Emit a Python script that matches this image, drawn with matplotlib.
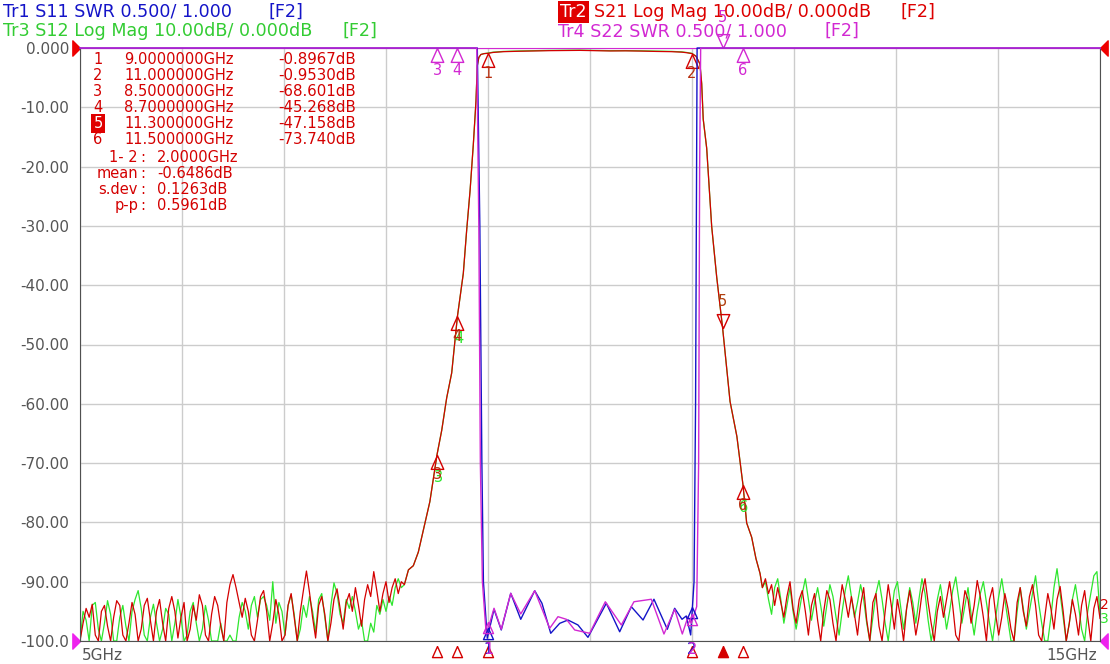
import numpy as np
import matplotlib.pyplot as plt
from matplotlib.path import Path

W, H = 1110, 664

# ---- data ----
# S21 / S12 noise floor below the passband (5.0 .. 8.15 GHz)
s21_noise_lo = [-100, -97, -94.5, -96, -93.8, -99, -100, -95, -94, -97.5,
                -100, -96, -93.2, -94, -99, -100, -97, -93.5, -95.5, -100,
                -98, -94, -92.8, -96.5, -100, -95, -93, -97, -100, -94.5,
                -92.5, -95, -99.5, -96, -93.5, -100, -98, -94, -96.5, -92.2,
                -94, -99, -100, -95.5, -92.5, -94, -97.5, -100, -93.5, -90.5,
                -88.8, -91, -93.5, -96, -92.8, -95, -99, -100, -96.5, -92.5,
                -91.5, -95, -100, -97, -93, -95.5, -100, -99, -94, -92,
                -96, -100, -95, -91.5, -88.2, -91.8, -96, -99.5, -94, -92.5,
                -95.5, -100, -97, -93, -91.2, -94.5, -98, -93.5, -92, -95,
                -91, -94, -97.5, -93, -90.5, -92.5, -88.3, -91.5, -95, -92,
                -90, -93.5, -91, -89.5, -92, -90]
s12_noise_lo = [-100, -95, -96.5, -100, -94, -93.5, -98, -100, -97, -93.2,
                -95.5, -100, -100, -96, -94, -97.5, -100, -95, -93, -91.5,
                -94.5, -99, -100, -96, -93.8, -97, -100, -98, -94.5, -95.5,
                -100, -97, -93, -96, -100, -99, -95, -93.5, -97, -100,
                -98, -94, -96.5, -100, -100, -100, -97, -100, -100, -99,
                -100, -100, -96, -93.5, -95, -98, -94, -92.5, -96, -93,
                -92.5, -94, -96.5, -90, -97, -93.5, -95, -99, -94, -92.2,
                -95.5, -100, -98, -94, -96, -92.5, -95, -98.5, -93, -92,
                -96, -100, -94, -90.2, -92, -95.5, -97, -93, -94.5, -92.5,
                -95, -98, -96.5, -100, -100, -97, -98.5, -94, -95.5, -93,
                -95, -92.5, -94, -91, -89.5, -91]
# noise floor above the passband (11.72 .. 15.0 GHz)
s21_noise_hi = [-89.5, -92, -90.5, -94, -91, -93.5, -96, -92.5, -90, -94.5,
                -97, -93, -91.5, -95, -99, -94, -92, -96.5, -100, -95,
                -91.5, -93, -97, -100, -94.5, -90.5, -93, -96, -92.5, -95.5,
                -99, -94, -91, -96.5, -100, -93.5, -92, -97.5, -100, -95,
                -90.5, -94, -98, -93, -96, -100, -94.5, -91.5, -95, -99,
                -96, -92, -89.5, -93.5, -97, -100, -95, -92.5, -96, -93,
                -90, -94, -99, -100, -95.5, -91.5, -93, -97, -94, -89.8,
                -92.5, -96, -100, -93, -91, -95.5, -99, -96, -92, -94.5,
                -98, -100, -93.5, -91, -95, -97.5, -92.5, -90.5, -94, -99,
                -100, -96, -92, -94.5, -98, -93, -90.8, -95, -100, -97,
                -93, -95.5, -99, -94, -91.5, -96, -100, -94.5, -92.5, -96.2]
s12_noise_hi = [-90, -93, -95.5, -91, -89.5, -93, -97, -94, -91, -95,
                -98, -95, -92, -89.5, -93, -96.5, -93.5, -91, -94, -97.5,
                -94, -90.5, -92.5, -96, -99, -95, -91.5, -89, -92.5, -96,
                -93.5, -90.5, -93, -97, -100, -96, -92, -89.8, -93, -97,
                -100, -95.5, -91.5, -90, -94, -98, -94.5, -91, -93.5, -97,
                -93, -89.5, -92, -96.5, -100, -97, -93, -90.5, -94, -98,
                -95, -91.5, -89.2, -93, -97, -94, -91, -95.5, -99, -95,
                -92, -90, -93.5, -97, -100, -96, -92.5, -89.5, -93, -96.5,
                -100, -100, -95, -91, -94.5, -98, -95, -92, -89, -93.5,
                -97, -100, -100, -96, -91, -87.8, -92, -96, -100, -97,
                -93, -90.5, -94, -98, -100, -95, -92, -89, -88.3, -95.5]

# filter skirts and passband (shared by S21 and S12)
skirt_lo_f = [8.18, 8.22, 8.268, 8.317, 8.366, 8.43, 8.5, 8.546, 8.595, 8.644,
              8.7, 8.758, 8.791, 8.824, 8.856, 8.882, 8.895, 8.91, 8.93, 8.96]
skirt_lo_db = [-90.5, -88.0, -87.3, -85.0, -81.3, -76.5, -68.6, -64.5, -59.0, -54.8,
               -45.3, -38.0, -30.7, -24.1, -16.3, -9.0, -3.0, -1.6, -1.1, -0.95]
pass_f = [9.0, 9.05, 9.15, 9.3, 9.45, 9.6, 9.75, 9.9, 10.05, 10.2, 10.35, 10.5,
          10.65, 10.8, 10.9, 10.95, 11.0]
s21_pass_db = [-0.90, -0.75, -0.62, -0.55, -0.50, -0.45, -0.42, -0.40, -0.45, -0.50,
               -0.48, -0.52, -0.58, -0.62, -0.70, -0.80, -0.95]
s12_pass_db = [-0.85, -0.70, -0.58, -0.50, -0.45, -0.40, -0.38, -0.36, -0.40, -0.45,
               -0.44, -0.47, -0.52, -0.57, -0.65, -0.76, -0.90]
skirt_hi_f = [11.04, 11.078, 11.095, 11.11, 11.144, 11.193, 11.242, 11.3, 11.373,
              11.44, 11.5, 11.536, 11.585, 11.627, 11.667, 11.69]
skirt_hi_db = [-1.4, -2.7, -6.0, -12.0, -16.9, -30.1, -38.6, -47.2, -59.6,
               -65.5, -73.7, -80.1, -82.5, -86.1, -88.6, -91.0]

# S11 / S22 SWR (values above 6 are off the top of the screen)
s11_f = [5.0, 8.88, 8.895, 8.92, 8.94, 8.955, 8.993, 9.059, 9.130, 9.223, 9.321,
         9.458, 9.529, 9.615, 9.703, 9.784, 9.882, 9.980, 10.160, 10.291, 10.405,
         10.520, 10.627, 10.758, 10.830, 10.902, 10.944, 10.987, 11.02, 11.035,
         11.05, 11.07, 15.0]
s11_swr = [20, 20, 7.0, 4.5, 2.5, 1.5, 1.023, 1.267, 1.093, 1.402, 1.183,
           1.424, 1.318, 1.065, 1.149, 1.177, 1.135, 1.031, 1.318, 1.078, 1.289,
           1.177, 1.352, 1.099, 1.276, 1.183, 1.211, 1.051, 1.5, 3.0,
           7.0, 20, 20]
s22_f = [5.0, 8.87, 8.89, 8.91, 8.925, 8.945, 8.983, 9.059, 9.130, 9.223, 9.321,
         9.458, 9.605, 9.686, 9.768, 9.850, 9.997, 10.150, 10.307, 10.431, 10.601,
         10.725, 10.830, 10.905, 10.961, 10.993, 11.046, 11.065, 11.075, 11.085,
         11.10, 15.0]
s22_swr = [20, 20, 7.0, 4.5, 2.5, 1.5, 1.051, 1.276, 1.099, 1.402, 1.228,
           1.424, 1.107, 1.205, 1.183, 1.093, 1.065, 1.331, 1.135, 1.331, 1.352,
           1.059, 1.267, 1.059, 1.205, 1.149, 1.29, 2.5, 5.0, 8.0,
           20, 20]

# markers
mk_num = ["1", "2", "3", "4", "5", "6"]
mk_f = [9.0, 11.0, 8.5, 8.7, 11.3, 11.5]
mk_db = [-0.8967, -0.9530, -68.601, -45.268, -47.158, -73.740]
mk_freq_txt = ["9.0000000GHz", "11.000000GHz", "8.5000000GHz", "8.7000000GHz",
               "11.300000GHz", "11.500000GHz"]
mk_val_txt = ["-0.8967dB", "-0.9530dB", "-68.601dB", "-45.268dB", "-47.158dB", "-73.740dB"]
stat_lbl = ["1- 2", "mean", "s.dev", "p-p"]
stat_val = ["2.0000GHz", "-0.6486dB", "0.1263dB", "0.5961dB"]
ytick_vals = list(range(0, -101, -10))
ytick_txt = ["0.000", "-10.00", "-20.00", "-30.00", "-40.00", "-50.00", "-60.00",
             "-70.00", "-80.00", "-90.00", "-100.0"]

RED = "#d40000"
GREEN = "#2ee62e"
BLUE = "#1414c8"
MAG = "#d228d2"
GREY = "#555555"

plt.rcParams["font.family"] = ["DejaVu Sans"]


def px(x, y):
    return x / W, 1 - y / H


fig = plt.figure(figsize=(W / 100, H / 100), dpi=100)
ax = fig.add_axes([80 / W, 1 - 641 / H, 1020 / W, 593 / H])
ax.set_xlim(5, 15)
ax.set_ylim(-100, 0)
ax.set_xticks(np.arange(5, 16, 1))
ax.set_yticks(ytick_vals)
ax.set_yticklabels(ytick_txt, color=GREY, fontsize=11)
ax.tick_params(length=0, labelbottom=False, pad=8)
ax.grid(color="#cccccc", lw=1)
for s in ["left", "bottom", "right"]:
    ax.spines[s].set_color("#505050")
ax.spines["top"].set_color(MAG)

# traces S12 (green) under S21 (red)
f12 = np.concatenate([np.linspace(5.0, 8.15, len(s12_noise_lo)), skirt_lo_f, pass_f,
                      skirt_hi_f, np.linspace(11.72, 15.0, len(s12_noise_hi))])
d12 = np.concatenate([s12_noise_lo, skirt_lo_db, s12_pass_db, skirt_hi_db, s12_noise_hi])
f21 = np.concatenate([np.linspace(5.0, 8.15, len(s21_noise_lo)), skirt_lo_f, pass_f,
                      skirt_hi_f, np.linspace(11.72, 15.0, len(s21_noise_hi))])
d21 = np.concatenate([s21_noise_lo, skirt_lo_db, s21_pass_db, skirt_hi_db, s21_noise_hi])
ax.plot(f12, d12, color=GREEN, lw=0.9)
ax.plot(f21, d21, color=RED, lw=0.9)

# SWR traces on their own scale: 1.000 at bottom, 0.5/div
ax2 = ax.twinx()
ax2.set_ylim(1, 6)
ax2.axis("off")
ax2.plot(s11_f, np.minimum(s11_swr, 6), color=BLUE, lw=1.0, clip_on=False)
ax2.plot(s22_f, np.minimum(s22_swr, 6), color=MAG, lw=1.0, clip_on=False)

# marker triangles (apex at the point)
up = Path([(0, 0), (-0.45, -1), (0.45, -1), (0, 0)])
dn = Path([(0, 0), (-0.45, 1), (0.45, 1), (0, 0)])
for n, f, v in zip(mk_num, mk_f, mk_db):
    if n == "5":
        ax.plot(f, v, marker=dn, ms=20, mfc="none", mec=RED, mew=1)
        ax.annotate(n, (f, v), xytext=(0, 19), textcoords="offset points",
                    ha="center", va="center", color="#b04010", fontsize=10.5)
    else:
        ax.plot(f, v, marker=up, ms=20, mfc="none", mec=RED, mew=1)
        if n in ("3", "4", "6"):
            ax.annotate(n, (f, v), xytext=(0.8, -16), textcoords="offset points",
                        ha="center", va="center", color=GREEN, fontsize=10.5)
        ax.annotate(n, (f, v), xytext=(0, -14.5), textcoords="offset points",
                    ha="center", va="center", color="#b83010", fontsize=10.5)

# Tr4 markers off the top of the screen
for n, f in zip(mk_num, mk_f):
    if n in ("3", "4", "6"):
        ax.plot(f, 1.0, marker=up, ms=20, mfc="none", mec=MAG, mew=1,
                transform=ax.get_xaxis_transform(), clip_on=False)
        ax.annotate(n, (f, 1.0), xycoords=ax.get_xaxis_transform(), xytext=(0, -16),
                    textcoords="offset points", ha="center", va="center",
                    color=MAG, fontsize=10.5)
    if n == "5":
        ax.plot(f, 1.0, marker=dn, ms=20, mfc="none", mec=MAG, mew=1,
                transform=ax.get_xaxis_transform(), clip_on=False)
        ax.annotate(n, (f, 1.0), xycoords=ax.get_xaxis_transform(), xytext=(0, 22),
                    textcoords="offset points", ha="center", va="center",
                    color=MAG, fontsize=10.5)

# Tr1/Tr4 markers 1 and 2 on the SWR traces
for n, f in zip(mk_num[:2], mk_f[:2]):
    for sf, sv, c, dx in ((s11_f, s11_swr, BLUE, 0), (s22_f, s22_swr, MAG, 0.7)):
        v = np.interp(f, sf, sv)
        ax2.plot(f, v + 0.06, marker=up, ms=16, mfc="none", mec=c, mew=1, clip_on=False)
        ax2.annotate(n, (f, 1.0), xytext=(dx, -6), textcoords="offset points",
                     ha="center", va="center", color=c, fontsize=10.5,
                     annotation_clip=False)

# Tr2 marker positions below the axis
for n, f in zip(mk_num, mk_f):
    ax.plot(f, -0.0085, marker=up, ms=16, transform=ax.get_xaxis_transform(),
            clip_on=False, mec=RED, mew=1, mfc=RED if n == "5" else "none")

# reference position triangles (tip on the axis edge)
tri_r = Path([(0, 0), (-1, 1), (-1, -1), (0, 0)])
tri_l = Path([(0, 0), (1, 1), (1, -1), (0, 0)])
ax.plot(5, 0, marker=tri_r, ms=11, color="#ee0000", clip_on=False)
ax.plot(15, 0, marker=tri_l, ms=11, color="#ee0000", clip_on=False)
ax.plot(5, -100, marker=tri_r, ms=11, color="#ee22ee", clip_on=False)
ax.plot(15, -100, marker=tri_l, ms=11, color="#ee22ee", clip_on=False)

# trace numbers on the right edge
fig.text(*px(1100, 605), "2", color=RED, fontsize=10, va="center")
fig.text(*px(1100, 619), "3", color=GREEN, fontsize=10, va="center")

# frequency labels
fig.text(*px(82, 656), "5GHz", color=GREY, fontsize=11, va="center")
fig.text(*px(1097, 656), "15GHz", color=GREY, fontsize=11, va="center", ha="right")

# marker table
for i in range(6):
    y = 59 + 16.2 * i
    if mk_num[i] == "5":
        fig.text(*px(98, y), mk_num[i], color="white", fontsize=10.5, va="center",
                 ha="center", bbox=dict(boxstyle="square,pad=0.15", fc="#e00000", ec="none"))
    else:
        fig.text(*px(98, y), mk_num[i], color=RED, fontsize=10.5, va="center", ha="center")
    fig.text(*px(124, y), mk_freq_txt[i], color=RED, fontsize=10.5, va="center")
    fig.text(*px(278, y), mk_val_txt[i], color=RED, fontsize=10.8, va="center")
for i in range(4):
    y = 158 + 15.8 * i
    fig.text(*px(138, y), stat_lbl[i], color=RED, fontsize=10.5, va="center", ha="right")
    fig.text(*px(143, y), ":", color=RED, fontsize=10.5, va="center", ha="center")
    fig.text(*px(157, y), stat_val[i], color=RED, fontsize=10.5, va="center")

# header lines
hs = 12.6
fig.text(*px(3, 12), "Tr1 S11 SWR 0.500/ 1.000", color=BLUE, fontsize=hs, va="center")
fig.text(*px(268, 12), "[F2]", color=BLUE, fontsize=hs, va="center")
fig.text(*px(3, 31), "Tr3 S12 Log Mag 10.00dB/ 0.000dB", color="#33cc33", fontsize=hs, va="center")
fig.text(*px(343, 31), "[F2]", color="#33cc33", fontsize=hs, va="center")
fig.text(*px(560, 12), "Tr2", color="white", fontsize=hs, va="center",
         bbox=dict(boxstyle="square,pad=0.12", fc="#e00000", ec="none"))
fig.text(*px(594, 12), "S21 Log Mag 10.00dB/ 0.000dB", color="#dd0000", fontsize=hs, va="center")
fig.text(*px(900, 12), "[F2]", color="#dd0000", fontsize=hs, va="center")
fig.text(*px(558, 31), "Tr4 S22 SWR 0.500/ 1.000", color=MAG, fontsize=hs, va="center")
fig.text(*px(825, 31), "[F2]", color=MAG, fontsize=hs, va="center")

fig.savefig("out.png", dpi=100)
